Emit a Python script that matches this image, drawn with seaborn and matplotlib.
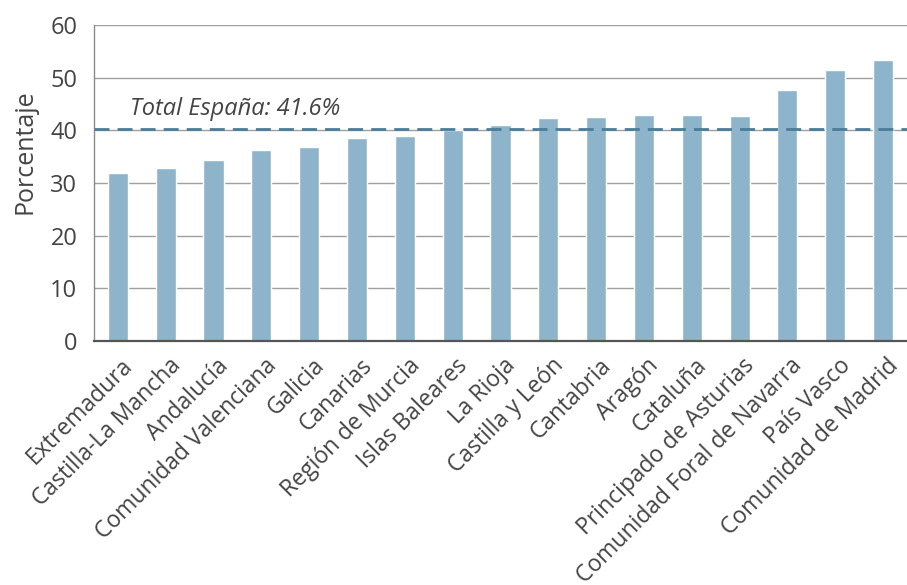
import matplotlib
matplotlib.use("Agg")
import matplotlib.pyplot as plt
import matplotlib.transforms as mtransforms
import seaborn as sns
import pandas as pd

regions = ["Extremadura", "Castilla-La Mancha", "Andalucía", "Comunidad Valenciana",
           "Galicia", "Canarias", "Región de Murcia", "Islas Baleares", "La Rioja",
           "Castilla y León", "Cantabria", "Aragón", "Cataluña",
           "Principado de Asturias", "Comunidad Foral de Navarra", "País Vasco",
           "Comunidad de Madrid"]
values = [31.9, 32.8, 34.3, 36.2, 36.8, 38.5, 38.9, 40.0, 41.0,
          42.3, 42.5, 42.9, 42.9, 42.7, 47.6, 51.4, 53.3]
total_line = 40.3
total_label = "Total España: 41.6%"
yticks = [0, 10, 20, 30, 40, 50, 60]

df = pd.DataFrame({"region": regions, "pct": values})

sns.set_style("white")
plt.rcParams["font.family"] = ["Open Sans", "DejaVu Sans"]

fig = plt.figure(figsize=(9.07, 5.85), dpi=100)
ax = fig.add_axes([0.1036, 0.417, 0.8964, 0.54])

sns.barplot(data=df, x="region", y="pct", color="#8db4ca", saturation=1,
            width=0.42, ax=ax)

ax.set_ylim(0, 60)
ax.set_xlim(-0.5, len(regions) - 0.5)
ax.set_yticks(yticks)
ax.yaxis.grid(True, color="#a0a0a0", linewidth=1.0)
ax.set_axisbelow(True)

ax.axhline(total_line, color="#4a7d98", linewidth=2.0, dashes=(5.4, 2.9), zorder=3)
ax.text(0.25, 43.0, total_label, fontsize=17, style="italic", color="#444444",
        va="baseline", ha="left")

for s in ["top", "right"]:
    ax.spines[s].set_visible(False)
ax.spines["left"].set_color("#8a8a8a")
ax.spines["left"].set_linewidth(1.0)
ax.spines["bottom"].set_color("#555555")
ax.spines["bottom"].set_linewidth(1.6)

ax.tick_params(axis="y", length=0, pad=12, labelsize=17, labelcolor="#444444")
ax.tick_params(axis="x", length=0, pad=2, labelsize=16.5, labelcolor="#444444")
ax.set_xlabel("")
ax.set_ylabel("Porcentaje", fontsize=18, color="#444444", labelpad=6)
ax.yaxis.set_label_coords(-0.07, 0.60)

offset = mtransforms.ScaledTranslation(3 / 100, -10 / 100, fig.dpi_scale_trans)
for lab in ax.get_xticklabels():
    lab.set_rotation(45)
    lab.set_ha("right")
    lab.set_va("top")
    lab.set_rotation_mode("anchor")
    lab.set_transform(lab.get_transform() + offset)

fig.savefig("out.png", dpi=100, facecolor="white")
